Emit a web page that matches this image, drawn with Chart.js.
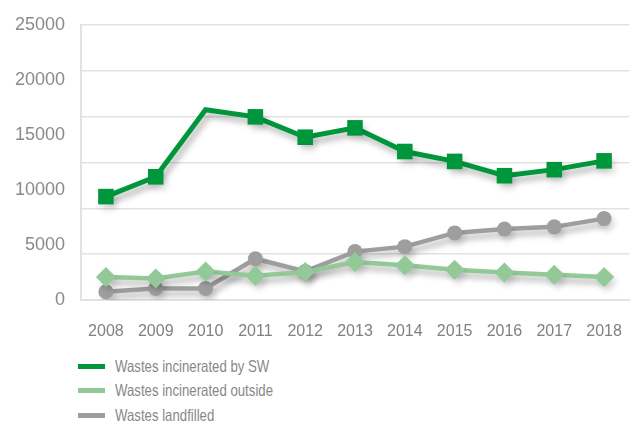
<!DOCTYPE html>
<html>
<head>
<meta charset="utf-8">
<script src="https://cdn.jsdelivr.net/npm/chart.js@4"></script>
<style>
    html, body { margin: 0; padding: 0; background: #fff; overflow: hidden; }
    #wrap { position: relative; width: 640px; height: 347px; }
    #legend { position: absolute; left: 78px; top: 354px; font-family: "Liberation Sans", sans-serif; font-size: 16.5px; color: #888; }
    .item { height: 24.5px; display: flex; align-items: center; white-space: nowrap; }
    .swatch { width: 27px; height: 5px; margin-right: 10px; flex: none; }
    .txt { display: inline-block; transform: scaleX(0.8); transform-origin: left center; }
</style>
</head>
<body>
<div id="wrap"><canvas id="myChart"></canvas></div>
<div id="legend"></div>
<script>
const years = ['2008', '2009', '2010', '2011', '2012', '2013', '2014', '2015', '2016', '2017', '2018'];
const incineratedSW = [9400, 11200, 17300, 16650, 14800, 15650, 13500, 12600, 11300, 11850, 12650];
const incineratedOutside = [2100, 1950, 2600, 2200, 2550, 3450, 3150, 2750, 2500, 2300, 2100];
const landfilled = [750, 1050, 1050, 3750, 2600, 4400, 4850, 6100, 6450, 6650, 7400];
const seriesNames = ['Wastes incinerated by SW', 'Wastes incinerated outside', 'Wastes landfilled'];

// soft drop shadow under the lines
const shadow = {
    id: 'shadow',
    beforeDatasetsDraw(chart) {
        const c = chart.ctx;
        c.save();
        c.shadowColor = 'rgba(0,0,0,0.3)';
        c.shadowBlur = 6;
        c.shadowOffsetX = 3;
        c.shadowOffsetY = 5;
    },
    afterDatasetsDraw(chart) {
        chart.ctx.restore();
    }
};

// markers get a lighter shadow than the lines
const pointDraw = Chart.PointElement.prototype.draw;
Chart.PointElement.prototype.draw = function (c, area) {
    c.save();
    c.shadowColor = 'rgba(0,0,0,0.15)';
    pointDraw.call(this, c, area);
    c.restore();
};

const ctx = document.getElementById('myChart');

const chart = new Chart(ctx, {
    type: 'line',
    data: {
        labels: years,
        datasets: [{
            label: seriesNames[0],
            data: incineratedSW,
            borderColor: '#00963c',
            backgroundColor: '#00963c',
            borderWidth: 5,
            pointStyle: 'rect',
            pointRadius: c => c.dataIndex === 2 ? 0 : 11,
            pointBorderWidth: 0,
            borderJoinStyle: 'miter'
        }, {
            label: seriesNames[1],
            data: incineratedOutside,
            borderColor: '#92c997',
            backgroundColor: '#92c997',
            borderWidth: 4.5,
            pointStyle: 'rectRot',
            pointRadius: 10,
            pointBorderWidth: 0
        }, {
            label: seriesNames[2],
            data: landfilled,
            borderColor: '#9e9e9e',
            backgroundColor: '#9e9e9e',
            borderWidth: 4.5,
            pointStyle: 'circle',
            pointRadius: 7.5,
            pointBorderWidth: 0
        }]
    },
    options: {
        responsive: true,
        maintainAspectRatio: false,
        animation: false,
        layout: { padding: { top: 25, right: 3, left: 0, bottom: 0 } },
        elements: { line: { tension: 0 } },
        plugins: { legend: { display: false }, tooltip: { enabled: false } },
        scales: {
            x: {
                offset: true,
                grid: { display: false },
                border: { display: true, color: '#e2e2e2', width: 2 },
                ticks: {
                    color: '#808080',
                    padding: 14,
                    maxRotation: 0,
                    font: { family: '"Liberation Sans"', size: 16 }
                },
                afterFit: s => { s.height = 47; }
            },
            y: {
                min: 0,
                max: 25000,
                grid: { display: false },
                border: { display: true, color: '#e2e2e2', width: 2 },
                ticks: {
                    stepSize: 5000,
                    color: '#8a8a8a',
                    padding: 8,
                    callback: v => String(v),
                    font: { family: '"Liberation Sans"', size: 18 }
                },
                afterFit: s => { s.width = 81; }
            },
            yg: {
                position: 'left',
                min: 0,
                max: 6,
                ticks: { display: false, stepSize: 1 },
                grid: { color: '#e2e2e2', lineWidth: 1.5, drawTicks: false },
                border: { display: false },
                afterFit: s => { s.width = 0; }
            }
        }
    },
    plugins: [shadow]
});

const legend = document.getElementById('legend');
chart.data.datasets.forEach(ds => {
    const row = document.createElement('div');
    row.className = 'item';
    row.innerHTML = '<span class="swatch" style="background:' + ds.borderColor + '"></span><span class="txt">' + ds.label + '</span>';
    legend.appendChild(row);
});
</script>
</body>
</html>
